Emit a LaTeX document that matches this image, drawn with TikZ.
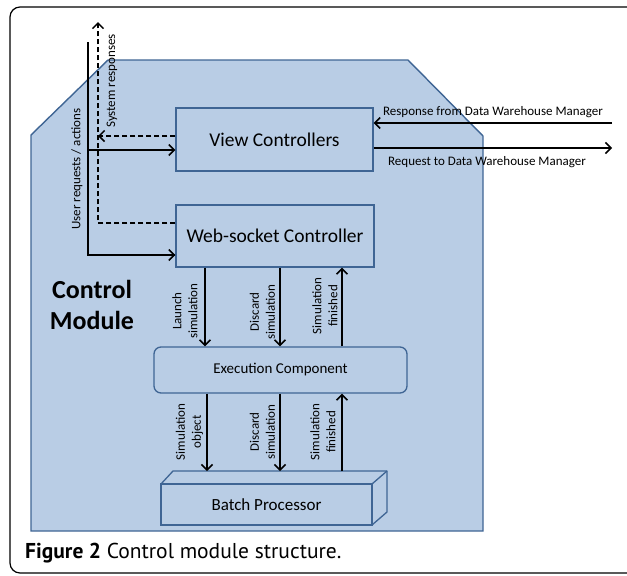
\documentclass[tikz,border=0pt]{standalone}
\usepackage{fontspec}
\setmainfont{Carlito}
\newfontfamily\capfont{PT Sans}
\usetikzlibrary{arrows.meta,calc}
\definecolor{modfill}{HTML}{B9CDE5}
\definecolor{modline}{HTML}{3F6594}
\begin{document}
\begin{tikzpicture}[x=1pt,y=-1pt,
  boxst/.style={draw=modline,fill=modfill,line width=1.3pt,inner sep=0pt,font=\fontsize{19.5}{22}\selectfont},
  arr/.style={line width=1.6pt,-{Straight Barb[length=5.5pt,width=11pt,line width=1.5pt]}},
  plain/.style={line width=1.6pt},
  dsh/.style={dash pattern=on 5pt off 3pt},
  lbl/.style={font=\fontsize{13}{16}\selectfont,align=center,inner sep=0pt},
  vlbl/.style={lbl,rotate=90}]
\useasboundingbox (0,0) rectangle (627,576);
\clip (0,0) rectangle (627,576);
% outer frame
\draw[line width=1.2pt,rounded corners=10pt] (10,7) rectangle (640,573);
% module polygon
\draw[modline,fill=modfill,line width=1.4pt] (31,135) -- (108,60) -- (408,60) -- (483,136) -- (483,531) -- (31,531) -- cycle;
\node[font=\bfseries\fontsize{26}{31}\selectfont,align=center,inner sep=0pt] (cm) at (92,305) {Control\\Module};
% boxes
\node[boxst,minimum width=197pt,minimum height=63pt] (vc) at (274.5,139.5) {View Controllers};
\node[boxst,minimum width=198pt,minimum height=62pt] (ws) at (275,236) {Web-socket Controller};
\node[boxst,rounded corners=7pt,minimum width=253pt,minimum height=46pt,font=\fontsize{15}{18}\selectfont] (ec) at (280.5,370) {Execution Component};
% batch processor (3D box)
\draw[modline,fill=modfill,line width=1.3pt,line join=round] (161,484) -- (173,471) -- (387,471) -- (387,512) -- (372,525) -- (372,484) -- cycle;
\draw[modline,line width=1.3pt] (372,484) -- (387,471);
\node[boxst,minimum width=211pt,minimum height=41pt,font=\fontsize{17}{20}\selectfont] (bp) at (266.5,504.5) {Batch Processor};
\coordinate (bptop) at (0,471);
% left side: user requests / system responses
\coordinate (ustart) at (88,42);
\coordinate (ubr) at (88,150);
\coordinate (sysend) at (98,22);
\coordinate (sysj) at (98,136);
\draw[plain] (ustart) |- ([yshift=-19pt]ws.west);
\draw[arr] ([xshift=-10pt,yshift=-19pt]ws.west) -- ([yshift=-19pt]ws.west);
\draw[arr] (ubr) -- (vc.west |- ubr);
\draw[arr,dsh] ([yshift=13pt]ws.west) -| (sysend);
\draw[arr,dsh] (vc.west |- sysj) -- (sysj);
\node[vlbl] (ulbl) at (77,169) {User requests / actions};
\node[vlbl] (slbl) at (112,81) {System responses};
% right side
\coordinate (dwin) at (612,123);
\coordinate (dwout) at (612,148);
\draw[arr] (dwin) -- (vc.east |- dwin);
\draw[arr] (vc.east |- dwout) -- (dwout);
\node[lbl] (resp) at (493,112) {Response from Data Warehouse Manager};
\node[lbl] (req) at (487,162) {Request to Data Warehouse Manager};
% upper vertical arrows
\coordinate (xa) at (205,0);
\coordinate (xb) at (280,0);
\coordinate (xc) at (342,0);
\draw[arr] (ws.south -| xa) -- (ec.north -| xa);
\draw[arr] (ws.south -| xb) -- (ec.north -| xb);
\draw[arr] (ec.north -| xc) -- (ws.south -| xc);
\node[vlbl] (l1) at (185,311) {Launch\\simulation};
\node[vlbl] (l2) at (262.5,312) {Discard\\simulation};
\node[vlbl] (l3) at (325,306) {Simulation\\finished};
% lower vertical arrows
\coordinate (xd) at (207,0);
\draw[arr] (ec.south -| xd) -- (bptop -| xd);
\draw[arr] (ec.south -| xb) -- (bptop -| xb);
\draw[arr] (bptop -| xc) -- (ec.south -| xc);
\node[vlbl] (l4) at (189.5,432) {Simulation\\object};
\node[vlbl] (l5) at (262.5,432) {Discard\\simulation};
\node[vlbl] (l6) at (323,432) {Simulation\\finished};
% caption
\node[anchor=west,inner sep=0pt,font=\capfont\fontsize{21.5}{24}\selectfont] (cap) at (25,553) {\textbf{Figure 2} Control module structure.};
\end{tikzpicture}
\end{document}
